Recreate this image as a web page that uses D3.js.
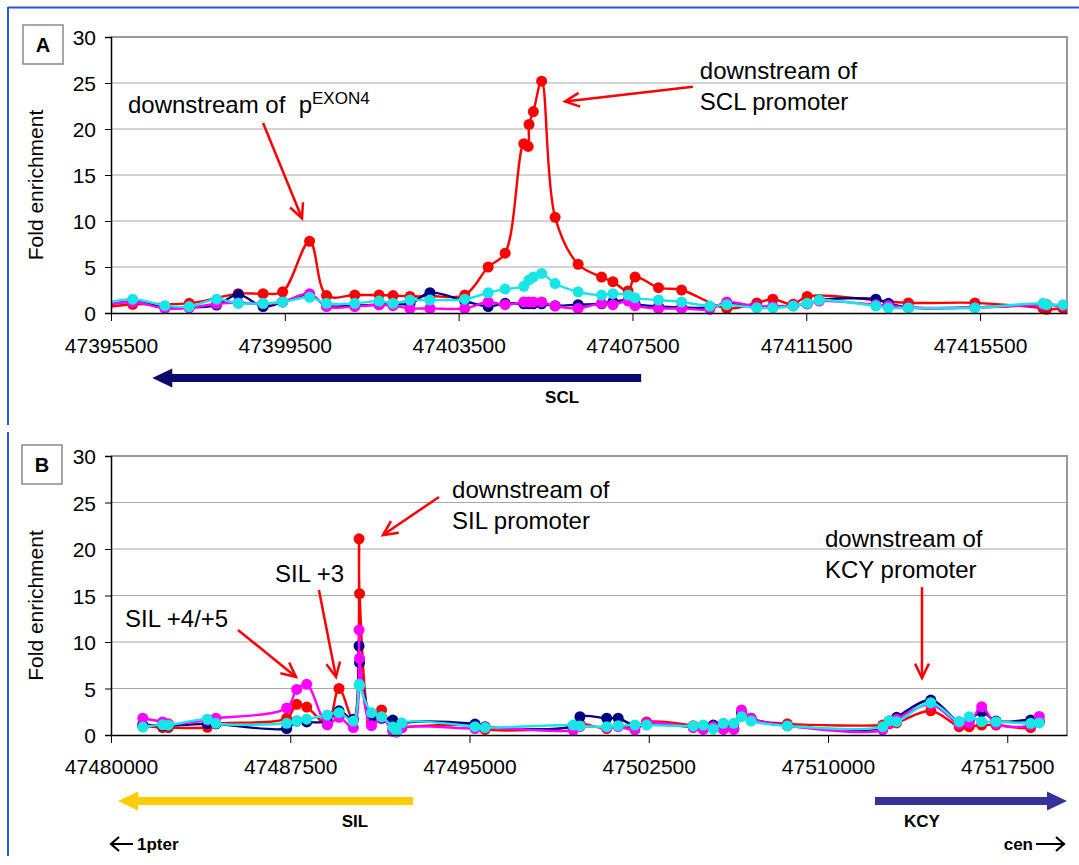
<!DOCTYPE html>
<html>
<head>
<meta charset="utf-8">
<script src="https://cdn.jsdelivr.net/npm/d3@7"></script>
<style>
  html, body { margin: 0; padding: 0; background: #fff; }
  svg { display: block; }
  text { font-family: "Liberation Sans", Arial, sans-serif; }
</style>
</head>
<body>
<svg id="fig" width="1079" height="865"></svg>
<script>
// ---------- Panel A: SCL locus ----------
const posA = [
  47395200, 47396000, 47396740, 47397300, 47397930, 47398430, 47399000, 47399450,
  47400070, 47400460, 47401110, 47401670, 47401990, 47402380, 47402840, 47403640,
  47404180, 47404570, 47405000, 47405100, 47405120, 47405220, 47405410, 47405720,
  47406250, 47406790, 47407050, 47407400, 47407560, 47408100, 47408630, 47409280,
  47409670, 47410360, 47410730, 47411200, 47411520, 47411800, 47413100, 47413390,
  47413850, 47415380, 47416950, 47417030, 47417410, 47417700
];
const redA = [
  0.5, 0.95, null, 1.05, null, 2.1, 2.1, 2.3,
  7.8, 1.9, 1.95, 1.95, 1.9, 1.8, 1.85, 1.95,
  5.0, 6.5, 18.4, 18.1, 20.5, 21.9, 25.2, 10.4,
  5.3, 3.9, 3.4, 2.4, 3.9, 2.75, 2.5, null,
  0.5, 1.1, 1.5, 0.95, 1.8, null, null, null,
  1.1, 1.1, 0.5, 0.4, 0.5, 0.6
];
const navyA = [
  0.6, 1.3, 0.6, 0.6, 0.87, 2.0, 0.7, 1.2,
  2.0, 0.8, 0.8, 0.9, 1.0, 1.0, 2.2, 1.3,
  0.7, 1.05, 1.0, null, 1.0, 1.0, 1.0, 0.8,
  0.9, 1.0, 1.2, 1.4, 1.0, 0.7, 0.6, 0.6,
  1.0, 0.7, 0.7, 0.8, 1.0, 1.4, 1.5, 1.05,
  0.6, 0.6, 0.9, 0.9, 0.8, 0.7
];
const magentaA = [
  0.7, 1.2, 0.5, 0.55, 1.0, 1.1, 1.0, 1.2,
  2.1, 0.7, 0.7, 0.9, 0.8, 0.5, 0.5, 0.5,
  1.2, 0.9, 1.2, null, 1.2, 1.2, 1.2, 0.76,
  0.5, 1.05, 0.9, 1.3, 0.8, 0.5, 0.5, 0.4,
  1.2, 0.7, 0.7, 0.8, 1.0, 1.3, 0.9, 0.8,
  0.6, 0.6, 0.9, 0.9, 0.8, 0.7
];
const cyanA = [
  0.9, 1.5, 0.8, 0.7, 1.5, 1.05, 1.05, 1.2,
  1.7, 1.05, 1.05, 1.3, 1.05, 1.4, 1.4, 1.5,
  2.2, 2.6, 2.9, null, 3.6, 3.9, 4.3, 3.2,
  2.3, 1.95, 2.1, 1.95, 1.65, 1.4, 1.2, 0.76,
  0.9, 0.55, 0.55, 0.76, 1.05, 1.4, 0.76, 0.55,
  0.55, 0.55, 1.05, 0.9, 0.9, 0.8
];
const ticksA = [47395500, 47399500, 47403500, 47407500, 47411500, 47415500];
const domainA = [47395500, 47417500];

// ---------- Panel B: SIL / KCY locus ----------
const posB = [
  47481330, 47482160, 47482400, 47484030, 47484390, 47487350, 47487770, 47488190,
  47489050, 47489540, 47490140, 47490380, 47490400, 47490900, 47491320, 47491790,
  47491950, 47492170, 47495230, 47495650, 47499340, 47499620, 47500740, 47501220,
  47501920, 47502410, 47504360, 47504780, 47505200, 47505620, 47506060, 47506380,
  47506780, 47508300, 47512290, 47512560, 47512870, 47514300, 47515490, 47515910,
  47516430, 47517030, 47518480, 47518840
];
const redB = [
  1.0, 0.8, 0.8, 0.83, 1.2, 1.8, 3.3, 3.0,
  1.2, 5.0, 1.6, 21.1, 15.2, 1.4, 2.7, 0.6,
  null, 0.8, 1.0, 0.6, 0.9, 1.2, 0.7, 1.0,
  0.8, 1.4, 1.0, 0.7, 1.0, 0.7, 0.7, 2.3,
  1.65, 1.2, 1.07, 1.2, 1.3, 2.6, 0.9, 0.9,
  1.07, 1.07, 0.8, 1.5
];
const navyB = [
  1.1, 1.0, 1.0, 1.2, 1.2, 0.7, 1.5, 1.4,
  1.5, 2.6, 1.7, 9.57, 7.78, 2.0, 1.8, 1.6,
  0.6, 1.2, 1.18, 0.9, 1.0, 1.97, 1.8, 1.8,
  1.0, 1.2, 0.9, 1.0, 1.07, 1.2, 1.2, 2.4,
  1.8, 1.0, 0.8, 1.5, 1.9, 3.76, 1.4, 1.6,
  2.5, 1.5, 1.6, 1.4
];
const magentaB = [
  1.8, 1.4, 1.2, 1.6, 1.8, 2.9, 4.9, 5.45,
  1.1, 1.9, 0.8, 11.3, 8.25, 1.0, 1.9, 0.4,
  0.3, 0.8, 0.7, 0.8, 0.5, 0.9, 0.8, 0.9,
  0.55, 1.3, 0.8, 0.6, 0.9, 0.6, 0.6, 2.7,
  1.8, 1.0, 0.54, 1.3, 1.7, 3.3, 1.2, 1.3,
  3.05, 1.2, 1.1, 2.0
];
const cyanB = [
  0.85, 1.1, 1.05, 1.7, 1.26, 1.26, 1.5, 1.7,
  2.15, 2.4, 1.5, 5.45, 5.3, 2.4, 1.97, 0.85,
  0.4, 1.3, 0.9, 0.8, 1.07, 0.97, 0.9, 1.0,
  1.07, 1.07, 0.97, 1.07, 0.65, 1.26, 1.26, 1.97,
  1.5, 0.97, 0.9, 1.54, 1.43, 3.47, 1.43, 1.97,
  1.43, 1.43, 1.26, 1.3
];
const ticksB = [47480000, 47487500, 47495000, 47502500, 47510000, 47517500];
const domainB = [47480000, 47520000];

const yTicks = [0, 5, 10, 15, 20, 25, 30];
const seriesColors = { red: "#ff0000", navy: "#000080", magenta: "#ff00ff", cyan: "#18e6e6" };

// ---------- Drawing ----------
const svg = d3.select("#fig");
svg.append("rect").attr("width", 1079).attr("height", 865).attr("fill", "#fff");

// outer figure frame
const frameColor = "#2f55d8";
svg.append("line").attr("x1", 8).attr("x2", 1079).attr("y1", 7.5).attr("y2", 7.5)
  .attr("stroke", frameColor).attr("stroke-width", 2);
svg.append("line").attr("x1", 8).attr("x2", 8).attr("y1", 7).attr("y2", 425)
  .attr("stroke", frameColor).attr("stroke-width", 2);
svg.append("line").attr("x1", 8).attr("x2", 8).attr("y1", 432).attr("y2", 856)
  .attr("stroke", frameColor).attr("stroke-width", 2);

function panel(cfg) {
  const g = svg.append("g");
  const x = d3.scaleLinear().domain(cfg.domain).range([cfg.left, cfg.right]);
  const y = d3.scaleLinear().domain([0, 30]).range([cfg.bottom, cfg.top]);

  // gridlines
  g.append("g").selectAll("line").data(yTicks.filter(d => d > 0 && d < 30)).join("line")
    .attr("x1", cfg.left).attr("x2", cfg.right)
    .attr("y1", d => y(d)).attr("y2", d => y(d))
    .attr("stroke", "#a8a8a8").attr("stroke-width", 1);

  // plot-area frame (top and right)
  g.append("path")
    .attr("d", `M${cfg.left},${cfg.top}H${cfg.right}V${cfg.bottom}`)
    .attr("fill", "none").attr("stroke", "#999").attr("stroke-width", 2);

  // clip for series
  const clipId = "clip" + cfg.id;
  svg.append("clipPath").attr("id", clipId).append("rect")
    .attr("x", cfg.left).attr("y", cfg.top - 10)
    .attr("width", cfg.right - cfg.left).attr("height", cfg.bottom - cfg.top + 20);

  const plot = g.append("g").attr("clip-path", `url(#${clipId})`);
  const line = d3.line().x(d => x(d[0])).y(d => y(d[1])).curve(d3.curveCatmullRom.alpha(0.5));

  cfg.series.forEach(s => {
    const pts = cfg.pos.map((p, i) => [p, s.values[i]]).filter(d => d[1] != null);
    plot.append("path").datum(pts).attr("d", line)
      .attr("fill", "none").attr("stroke", s.color).attr("stroke-width", 2.4);
    plot.append("g").selectAll("circle").data(pts).join("circle")
      .attr("cx", d => x(d[0])).attr("cy", d => y(d[1])).attr("r", 5.5)
      .attr("fill", s.color);
  });

  // axes
  const ya = g.append("g").attr("transform", `translate(${cfg.left},0)`)
    .call(d3.axisLeft(y).tickValues(yTicks).tickSize(6).tickPadding(9));
  ya.select(".domain").attr("stroke", "#000").attr("stroke-width", 1.5);
  ya.selectAll(".tick line").attr("stroke", "#000");
  ya.selectAll("text").attr("font-size", 21).attr("fill", "#000").attr("dy", "0.36em");

  const xa = g.append("g").attr("transform", `translate(0,${cfg.bottom})`)
    .call(d3.axisBottom(x).tickValues(cfg.ticks).tickFormat(d3.format("d"))
      .tickSize(8).tickSizeOuter(0).tickPadding(cfg.xPad));
  xa.select(".domain").attr("stroke", "#000").attr("stroke-width", 1.5);
  xa.selectAll(".tick line").attr("stroke", "#000");
  xa.selectAll("text").attr("font-size", 21).attr("fill", "#000");

  // y title
  g.append("text")
    .attr("transform", `translate(43,${(cfg.top + cfg.bottom) / 2 + 10}) rotate(-90)`)
    .attr("text-anchor", "middle").attr("font-size", 21).text("Fold enrichment");

  // panel letter box
  g.append("rect").attr("x", cfg.box[0]).attr("y", cfg.box[1]).attr("width", 40).attr("height", 39)
    .attr("fill", "#fff").attr("stroke", "#8a8a8a").attr("stroke-width", 1.5);
  g.append("text").attr("x", cfg.box[0] + 20).attr("y", cfg.box[1] + 27)
    .attr("text-anchor", "middle").attr("font-size", 20).attr("font-weight", "bold").text(cfg.id);

  return { g, x, y };
}

// red annotation arrow with open head
function redArrow(g, x1, y1, x2, y2) {
  g.append("line").attr("x1", x1).attr("y1", y1).attr("x2", x2).attr("y2", y2)
    .attr("stroke", "#ff0000").attr("stroke-width", 2.5);
  const a = Math.atan2(y2 - y1, x2 - x1), L = 16, w = 0.45;
  const p1 = [x2 - L * Math.cos(a - w), y2 - L * Math.sin(a - w)];
  const p2 = [x2 - L * Math.cos(a + w), y2 - L * Math.sin(a + w)];
  g.append("path").attr("d", `M${p1}L${x2},${y2}L${p2}`)
    .attr("fill", "none").attr("stroke", "#ff0000").attr("stroke-width", 2.5);
}

function note(g, px, py, lines) {
  const t = g.append("text").attr("x", px).attr("y", py).attr("font-size", 24).attr("fill", "#000");
  lines.forEach((l, i) => t.append("tspan").attr("x", px).attr("dy", i === 0 ? 0 : 31).text(l));
  return t;
}

// gene arrow: filled shaft + triangular head
function geneArrow(g, xs, xe, yc, color) {
  const dir = Math.sign(xe - xs), h = 4, H = 9.5, L = 20;
  const xb = xe - dir * L;
  g.append("path")
    .attr("d", `M${xs},${yc - h}L${xb},${yc - h}L${xb},${yc - H}L${xe},${yc}L${xb},${yc + H}L${xb},${yc + h}L${xs},${yc + h}Z`)
    .attr("fill", color);
}

// --- panel A
const A = panel({
  id: "A", left: 111, right: 1067, top: 37, bottom: 313, domain: domainA, ticks: ticksA, xPad: 17,
  box: [23, 25], pos: posA,
  series: [
    { values: redA, color: seriesColors.red },
    { values: navyA, color: seriesColors.navy },
    { values: magentaA, color: seriesColors.magenta },
    { values: cyanA, color: seriesColors.cyan }
  ]
});
{
  const { g, x, y } = A;
  const t = note(g, x(47395890), y(21.7), ["downstream of \u00a0p"]);
  t.append("tspan").attr("dy", -9).attr("font-size", 17).text("EXON4");
  redArrow(g, x(47399000), y(20.65), x(47399895), y(10.3));
  note(g, x(47409050), y(25.4), ["downstream of", "SCL promoter"]);
  redArrow(g, x(47408890), y(24.6), x(47405950), y(23.0));
  geneArrow(g, x(47407700), x(47396450), 378, "#0a0a6e");
  g.append("text").attr("x", x(47405880)).attr("y", 403).attr("text-anchor", "middle")
    .attr("font-size", 17).attr("font-weight", "bold").text("SCL");
}

// --- panel B
const B = panel({
  id: "B", left: 111, right: 1067, top: 456, bottom: 735, domain: domainB, ticks: ticksB, xPad: 16,
  box: [22, 445], pos: posB,
  series: [
    { values: redB, color: seriesColors.red },
    { values: navyB, color: seriesColors.navy },
    { values: magentaB, color: seriesColors.magenta },
    { values: cyanB, color: seriesColors.cyan }
  ]
});
{
  const { g, x, y } = B;
  note(g, x(47494270), y(25.5), ["downstream of", "SIL promoter"]);
  redArrow(g, x(47493724), y(25.6), x(47491380), y(21.5));
  note(g, x(47486860), y(16.45), ["SIL +3"]);
  redArrow(g, x(47488700), y(15.6), x(47489414), y(6.24));
  note(g, x(47480586), y(11.6), ["SIL +4/+5"]);
  redArrow(g, x(47485314), y(11.3), x(47487740), y(6.24));
  note(g, x(47509874), y(20.2), ["downstream of", "KCY promoter"]);
  redArrow(g, x(47513932), y(15.9), x(47513932), y(6.13));

  geneArrow(g, x(47492636), x(47480293), 801, "#ffcc00");
  geneArrow(g, x(47511966), x(47520000), 801, "#333399");
  g.append("text").attr("x", 355).attr("y", 827).attr("text-anchor", "middle")
    .attr("font-size", 17).attr("font-weight", "bold").text("SIL");
  g.append("text").attr("x", 922).attr("y", 827).attr("text-anchor", "middle")
    .attr("font-size", 17).attr("font-weight", "bold").text("KCY");

  // chromosome orientation
  const oy = 844;
  g.append("path").attr("d", `M133,${oy}H111M119,${oy - 7}L111,${oy}L119,${oy + 7}`)
    .attr("fill", "none").attr("stroke", "#000").attr("stroke-width", 2.2);
  g.append("text").attr("x", 137).attr("y", oy + 6).attr("font-size", 17).attr("font-weight", "bold").text("1pter");
  g.append("path").attr("d", `M1036,${oy}H1064M1056,${oy - 7}L1064,${oy}L1056,${oy + 7}`)
    .attr("fill", "none").attr("stroke", "#000").attr("stroke-width", 2.2);
  g.append("text").attr("x", 1033).attr("y", oy + 6).attr("text-anchor", "end")
    .attr("font-size", 17).attr("font-weight", "bold").text("cen");
}
</script>
</body>
</html>
